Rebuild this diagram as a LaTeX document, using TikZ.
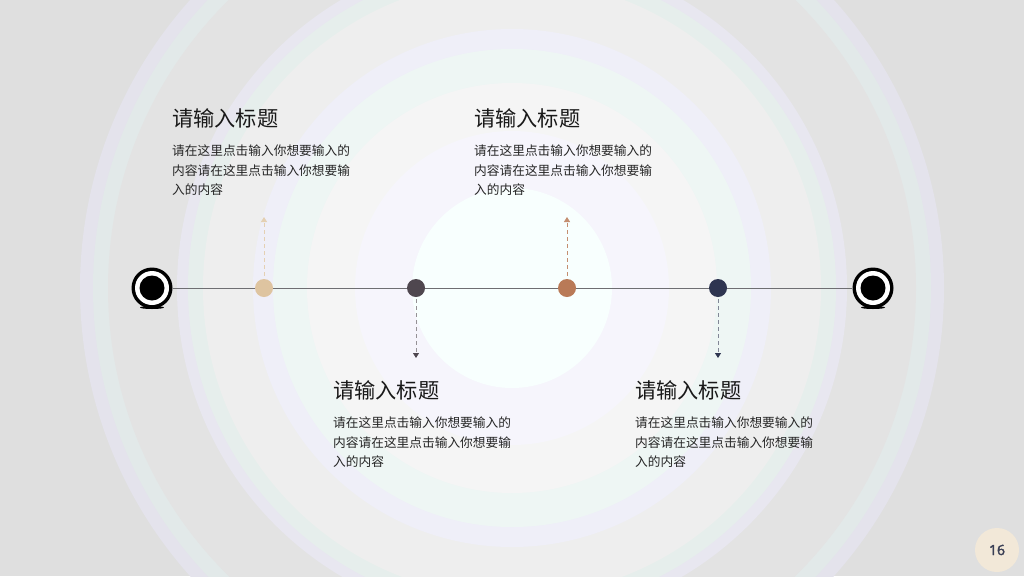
\documentclass[tikz,border=0pt]{standalone}
\usepackage{fontspec}
\setmainfont{Open Sans}
\newfontfamily\cjk{Noto Sans CJK SC}
\newfontfamily\pagefont{Open Sans}[FakeBold=2.5]
\usetikzlibrary{arrows.meta}
\definecolor{bgA}{HTML}{DFDFDF}
\definecolor{rA}{HTML}{E4E3EC}
\definecolor{rB}{HTML}{E2E9E9}
\definecolor{rC}{HTML}{E3E3E3}
\definecolor{rD}{HTML}{E8E7F0}
\definecolor{rE}{HTML}{E6EEEC}
\definecolor{rF}{HTML}{EEEEEE}
\definecolor{rG}{HTML}{EFEFF8}
\definecolor{rH}{HTML}{EEF6F4}
\definecolor{rI}{HTML}{F5F5F5}
\definecolor{rJ}{HTML}{F6F5FC}
\definecolor{rK}{HTML}{F8FFFE}
\definecolor{dotA}{HTML}{DEC4A0}
\definecolor{dotB}{HTML}{4F474F}
\definecolor{dotC}{HTML}{B97A57}
\definecolor{dotD}{HTML}{2E3550}
\definecolor{lineC}{HTML}{6E6E72}
\definecolor{pageBg}{HTML}{F2E8D8}
\definecolor{pageTx}{HTML}{3A3F55}
\tikzset{
  titletext/.style={anchor=base west, inner sep=0pt, font=\cjk\fontsize{21.2}{24}\selectfont, text=black!90},
  bodytext/.style={anchor=base west, inner sep=0pt, font=\cjk\fontsize{12.7}{14}\selectfont, text=black!85},
  tldot/.style={circle, inner sep=0pt, minimum size=18pt},
  dasharrow/.style={dashed, dash pattern=on 4pt off 3pt, line width=0.8pt, -{Triangle[width=6pt,length=5pt]}},
  endmark/.style={circle, fill=black, inner sep=0pt, minimum size=41pt},
}
\begin{document}
\begin{tikzpicture}[x=1pt,y=-1pt]
\useasboundingbox (0,0) rectangle (1024,576);
\begin{scope}
\clip (0,0) rectangle (1024,576);
\fill[bgA] (0,0) rectangle (1024,576);
\foreach \r/\c in {432/rA,419/rB,404/rC,335/rD,324/rE,309/rF,259/rG,239/rH,205/rI,157/rJ,100/rK}
  \fill[\c] (512,288) circle[radius=\r];
\end{scope}

% end markers
\fill[black] (152,307.5) ellipse[x radius=12, y radius=1.5];
\fill[black] (873,307.5) ellipse[x radius=12, y radius=1.5];
\node[endmark] (L) at (152,288) {};
\node[endmark] (R) at (873,288) {};
\fill[white] (L.center) circle[radius=17];
\fill[black] (L.center) circle[radius=12.5];
\fill[white] (R.center) circle[radius=17];
\fill[black] (R.center) circle[radius=12.5];

% timeline
\draw[lineC, line width=0.9pt] (L.east) -- (R.west);

% dots
\node[tldot, fill=dotA] (d1) at (264,288) {};
\node[tldot, fill=dotB] (d2) at (416,288) {};
\node[tldot, fill=dotC] (d3) at (567,288) {};
\node[tldot, fill=dotD] (d4) at (718,288) {};

% dashed arrows
\coordinate (e1) at (264,217);
\coordinate (e2) at (416,358);
\coordinate (e3) at (567,217);
\coordinate (e4) at (718,358);
\draw[dasharrow, dotA!80] (d1.north) ++(0,-3) -- (e1);
\draw[dasharrow, color=dotB!60, -{Triangle[width=6pt,length=5pt,fill=dotB,color=dotB]}] (d2.south) ++(0,2) -- (e2);
\draw[dasharrow, dotC!85] (d3.north) ++(0,-3) -- (e3);
\draw[dasharrow, color=dotD!60, -{Triangle[width=6pt,length=5pt,fill=dotD,color=dotD]}] (d4.south) ++(0,2) -- (e4);

% text blocks
\node[titletext] (t1) at (172,126) {请输入标题};
\node[bodytext] (b1a) at (172,155.5) {请在这里点击输入你想要输入的};
\node[bodytext] (b1b) at (172,175) {内容请在这里点击输入你想要输};
\node[bodytext] (b1c) at (172,194.5) {入的内容};

\node[titletext] (t3) at (474,126) {请输入标题};
\node[bodytext] (b3a) at (474,155.5) {请在这里点击输入你想要输入的};
\node[bodytext] (b3b) at (474,175) {内容请在这里点击输入你想要输};
\node[bodytext] (b3c) at (474,194.5) {入的内容};

\node[titletext] (t2) at (333,398) {请输入标题};
\node[bodytext] (b2a) at (333,427.5) {请在这里点击输入你想要输入的};
\node[bodytext] (b2b) at (333,447) {内容请在这里点击输入你想要输};
\node[bodytext] (b2c) at (333,466.5) {入的内容};

\node[titletext] (t4) at (635,398) {请输入标题};
\node[bodytext] (b4a) at (635,427.5) {请在这里点击输入你想要输入的};
\node[bodytext] (b4b) at (635,447) {内容请在这里点击输入你想要输};
\node[bodytext] (b4c) at (635,466.5) {入的内容};

% page number
\node[circle, fill=pageBg, inner sep=0pt, minimum size=44pt, text=pageTx, font=\pagefont\fontsize{14}{16}\selectfont] (pg) at (997,550) {16};
\end{tikzpicture}
\end{document}
